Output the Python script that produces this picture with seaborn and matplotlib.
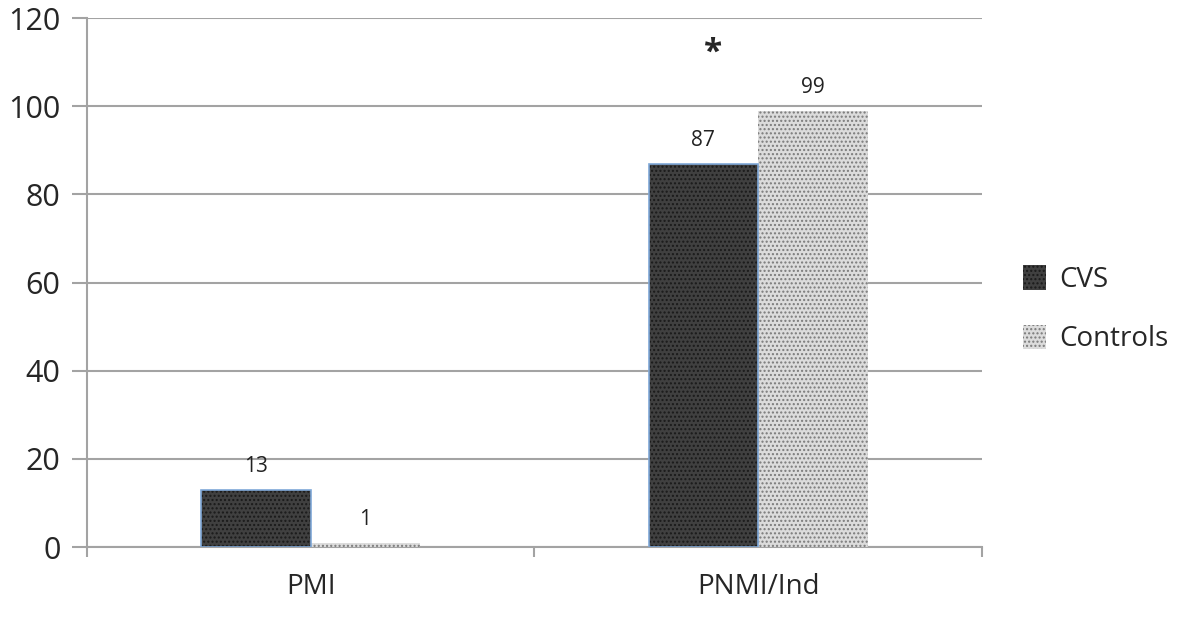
import matplotlib
matplotlib.use("Agg")
import matplotlib.pyplot as plt
from matplotlib.patches import Patch, Rectangle
from matplotlib.ticker import FixedLocator
import pandas as pd
import seaborn as sns

categories = ["PMI", "PNMI/Ind"]
groups = ["CVS", "Controls"]
cvs_values = [13, 87]
control_values = [1, 99]
y_ticks = [0, 20, 40, 60, 80, 100, 120]

sns.set_style("white")
plt.rcParams["font.family"] = ["Open Sans", "DejaVu Sans"]

df = pd.DataFrame({
    "category": categories * 2,
    "group": [groups[0]] * len(categories) + [groups[1]] * len(categories),
    "value": cvs_values + control_values,
})

face = {"CVS": "#404040", "Controls": "#dcdcdc"}
dots = {"CVS": "#1a1a1a", "Controls": "#7a7a7a"}
outline = {"CVS": "#7fa8d8", "Controls": "none"}
grid_col = "#a3a3a3"

fig = plt.figure(figsize=(12, 6.21), dpi=100)
ax = fig.add_axes([0.0725, 0.119, 0.7458, 0.852])

sns.barplot(data=df, x="category", y="value", hue="group", hue_order=groups,
            palette=face, width=0.49, linewidth=0, legend=False, ax=ax, zorder=3)

# patterned fill like the original office chart
for container, g in zip(ax.containers, groups):
    for bar in container:
        bar.set_hatch("....")
        bar.set_edgecolor(dots[g])
        bar.set_linewidth(0)
        if outline[g] != "none":
            ax.add_patch(Rectangle(bar.get_xy(), bar.get_width(), bar.get_height(),
                                   fill=False, edgecolor=outline[g], linewidth=1.2, zorder=4))
    ax.bar_label(container, padding=9, fontsize=15, color="#222222")

ax.text(0.9, 112, "*", ha="center", va="center", fontsize=24, fontweight="bold")

ax.set_ylim(0, 120)
ax.set_xlim(-0.5, 1.5)
ax.set_yticks(y_ticks)
ax.yaxis.grid(True, color=grid_col, linewidth=1.5, zorder=0)
ax.set_axisbelow(True)
for s in ["top", "right"]:
    ax.spines[s].set_visible(False)
for s in ["left", "bottom"]:
    ax.spines[s].set_color(grid_col)
    ax.spines[s].set_linewidth(1.5)

ax.tick_params(axis="y", which="major", length=11, width=1.5, color=grid_col,
               labelsize=22, pad=8, left=True)
ax.tick_params(axis="x", which="major", length=0, labelsize=20, pad=19)
ax.xaxis.set_minor_locator(FixedLocator([-0.5, 0.5, 1.5]))
ax.tick_params(axis="x", which="minor", length=7, width=1.5, color=grid_col, bottom=True)
ax.set_xlabel("")
ax.set_ylabel("")

handles = [Patch(facecolor=face[g], edgecolor=dots[g], hatch="....", linewidth=0) for g in groups]
fig.legend(handles, groups, loc="center left", bbox_to_anchor=(0.832, 0.502),
           frameon=False, fontsize=20, handlelength=0.8, handleheight=1.0,
           handletextpad=0.5, labelspacing=1.1)

fig.savefig("out.png", dpi=100)
